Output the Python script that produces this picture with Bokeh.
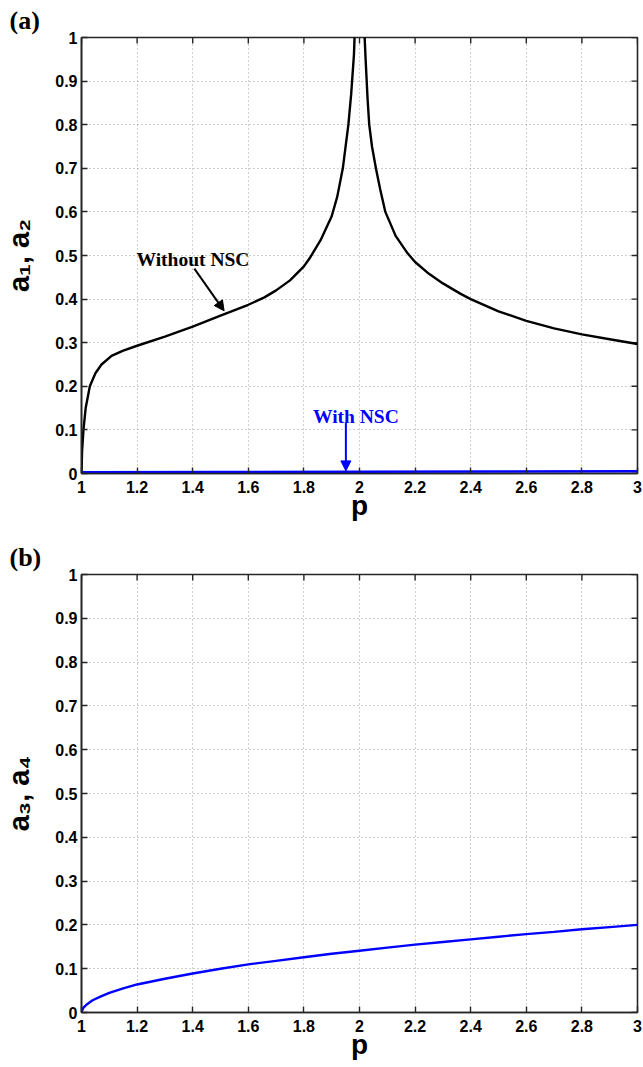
import math
from bokeh.plotting import figure
from bokeh.layouts import column
from bokeh.models import Label, Arrow, NormalHead, FixedTicker, Range1d, Title
from bokeh.embed import file_html
from bokeh.resources import INLINE

# ---- panel (a): a1, a2 versus p ----
p_without_left = [1.0, 1.002, 1.007, 1.015, 1.03, 1.05, 1.072, 1.108, 1.15, 1.2, 1.3,
                  1.4, 1.5, 1.6, 1.658, 1.7, 1.75, 1.8, 1.82, 1.86, 1.9, 1.92, 1.94,
                  1.96, 1.97, 1.98, 1.985]
a_without_left = [0.0, 0.05, 0.1, 0.15, 0.2, 0.23, 0.25, 0.27, 0.282, 0.293, 0.314,
                  0.337, 0.362, 0.387, 0.404, 0.42, 0.443, 0.475, 0.493, 0.535, 0.59, 0.635,
                  0.7, 0.8, 0.87, 0.96, 1.05]
p_without_right = [2.015, 2.022, 2.029, 2.035, 2.045, 2.059, 2.075, 2.093, 2.13, 2.173,
                   2.2, 2.25, 2.3, 2.364, 2.4, 2.5, 2.6, 2.7, 2.8, 2.9, 3.0]
a_without_right = [1.05, 0.95, 0.86, 0.8, 0.75, 0.7, 0.65, 0.6, 0.545, 0.505,
                   0.485, 0.458, 0.436, 0.412, 0.4, 0.372, 0.35, 0.333, 0.319, 0.308, 0.297]
p_with = [1.0, 1.5, 2.0, 2.5, 3.0]
a_with = [0.003, 0.0035, 0.004, 0.0045, 0.005]

# ---- panel (b): a3, a4 versus p ----
p_b = [1.0, 1.005, 1.01, 1.02, 1.04, 1.07, 1.1, 1.15, 1.2, 1.3, 1.4, 1.5, 1.6, 1.7,
       1.8, 1.9, 2.0, 2.1, 2.2, 2.3, 2.4, 2.5, 2.6, 2.7, 2.8, 2.9, 3.0]
a_b = [0.0, 0.009, 0.013, 0.019, 0.028, 0.037, 0.045, 0.055, 0.064, 0.077, 0.089, 0.1,
       0.11, 0.118, 0.126, 0.134, 0.141, 0.148, 0.155, 0.161, 0.167, 0.173, 0.179,
       0.184, 0.19, 0.195, 0.2]

x_ticks = [1.0, 1.2, 1.4, 1.6, 1.8, 2.0, 2.2, 2.4, 2.6, 2.8, 3.0]
x_tick_labels = ["1", "1.2", "1.4", "1.6", "1.8", "2", "2.2", "2.4", "2.6", "2.8", "3"]
y_ticks = [0.0, 0.1, 0.2, 0.3, 0.4, 0.5, 0.6, 0.7, 0.8, 0.9, 1.0]
y_tick_labels = ["0", "0.1", "0.2", "0.3", "0.4", "0.5", "0.6", "0.7", "0.8", "0.9", "1"]

BLUE = "#0000ff"
AXIS_COLOR = "#262626"
SANS = "Liberation Sans"
SERIF = "Liberation Serif"

W = 643
LEFT, RIGHT = 80, 6


def make_panel(height, top, frame_h, tag, ylabel):
    bottom = height - top - frame_h
    p = figure(width=W, height=height, x_range=Range1d(1, 3), y_range=Range1d(0, 1),
               output_backend="svg", toolbar_location=None,
               min_border_left=LEFT, min_border_right=RIGHT,
               min_border_top=top, min_border_bottom=bottom,
               background_fill_color="white", border_fill_color="white")
    # box around the frame
    p.outline_line_color = AXIS_COLOR
    p.outline_line_width = 1.6

    p.title = Title(text=tag, align="left", offset=-72, text_font=SERIF,
                    text_font_style="bold", text_font_size="26px",
                    text_color="black", standoff=6)

    for ax in p.axis:
        ax.axis_line_color = AXIS_COLOR
        ax.axis_line_width = 1.6
        ax.major_tick_line_color = AXIS_COLOR
        ax.major_tick_line_width = 1.4
        ax.major_tick_in = 6
        ax.major_tick_out = 0
        ax.minor_tick_line_color = None
        ax.major_label_text_font = SANS
        ax.major_label_text_font_style = "bold"
        ax.major_label_text_font_size = "16px"
        ax.major_label_text_color = "black"
        ax.axis_label_text_font = SANS
        ax.axis_label_text_font_style = "bold"
        ax.axis_label_text_color = "black"

    p.xaxis.ticker = FixedTicker(ticks=x_ticks)
    p.xaxis.major_label_overrides = dict(zip(x_ticks, x_tick_labels))
    p.xaxis.major_label_standoff = 7
    p.xaxis.axis_label = "p"
    p.xaxis.axis_label_text_font_size = "28px"
    p.xaxis.axis_label_standoff = -6

    p.yaxis.ticker = FixedTicker(ticks=y_ticks)
    p.yaxis.major_label_overrides = dict(zip(y_ticks, y_tick_labels))
    p.yaxis.major_label_standoff = 4
    p.yaxis.axis_label = ylabel
    p.yaxis.axis_label_text_font_size = "29px"
    p.yaxis.axis_label_standoff = 17

    # inward ticks along the top and right edges of the box (outer halves are clipped)
    n_x, n_y = len(x_ticks), len(y_ticks)
    p.scatter(x_ticks, [p.y_range.end] * n_x, marker="dash", angle=math.pi / 2,
              size=12, line_color=AXIS_COLOR, line_width=1.4)
    p.scatter([p.x_range.end] * n_y, y_ticks, marker="dash", angle=0,
              size=12, line_color=AXIS_COLOR, line_width=1.4)

    for g in (p.xgrid, p.ygrid):
        g.grid_line_color = "#a0a0a0"
        g.grid_line_dash = "1 3"
        g.grid_line_width = 1
    p.xgrid.ticker = FixedTicker(ticks=x_ticks)
    p.ygrid.ticker = FixedTicker(ticks=y_ticks)
    return p


# ---- figure (a) ----
pa = make_panel(533, 37, 436, "(a)", "a\u2081, a\u2082")
pa.line(p_without_left, a_without_left, line_color="black", line_width=2.4)
pa.line(p_without_right, a_without_right, line_color="black", line_width=2.4)
pa.line(p_with, a_with, line_color=BLUE, line_width=2.4)

pa.add_layout(Label(x=1.401, y=0.49, text="Without NSC", text_font=SERIF,
                    text_font_style="bold", text_font_size="19.5px",
                    text_align="center", text_baseline="alphabetic", text_color="black"))
pa.add_layout(Arrow(x_start=1.406, y_start=0.47, x_end=1.513, y_end=0.373,
                    line_color="black", line_width=2,
                    end=NormalHead(size=10, fill_color="black", line_color="black")))
pa.add_layout(Label(x=1.987, y=0.13, text="With NSC", text_font=SERIF,
                    text_font_style="bold", text_font_size="19.5px",
                    text_align="center", text_baseline="alphabetic", text_color=BLUE))
pa.add_layout(Arrow(x_start=1.951, y_start=0.116, x_end=1.951, y_end=0.006,
                    line_color=BLUE, line_width=2,
                    end=NormalHead(size=10, fill_color=BLUE, line_color=BLUE)))

# ---- figure (b) ----
pb = make_panel(534, 41, 438, "(b)", "a\u2083, a\u2084")
pb.line(p_b, a_b, line_color=BLUE, line_width=2.4)

page = column(pa, pb, spacing=0)
open("out.html", "w").write(file_html(page, INLINE))
